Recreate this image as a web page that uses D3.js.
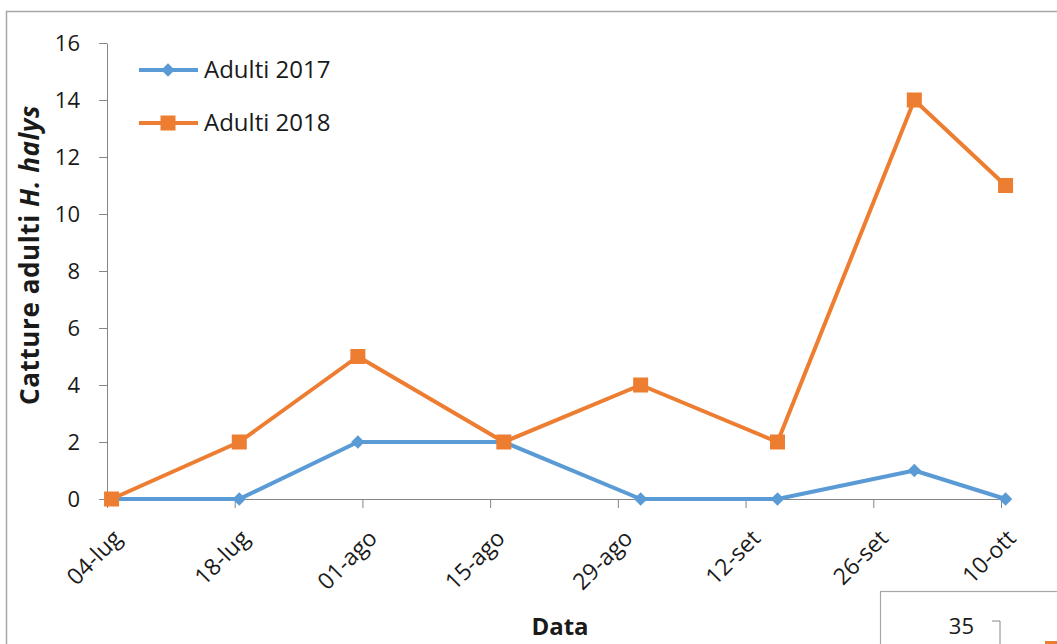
<!DOCTYPE html>
<html>
<head>
<meta charset="utf-8">
<script src="https://cdn.jsdelivr.net/npm/d3@7"></script>
<style>
  html, body { margin: 0; padding: 0; background: #fff; }
  svg { display: block; font-family: "Open Sans", Lato, sans-serif; }
</style>
</head>
<body>
<svg id="chart" width="1057" height="644"></svg>
<script>
// ---- data ----
const sampleDates = ["2018-07-04", "2018-07-18", "2018-07-31", "2018-08-16", "2018-08-31", "2018-09-15", "2018-09-30", "2018-10-10"];
const adulti2017 = [0, 0, 2, 2, 0, 0, 1, 0];
const adulti2018 = [0, 2, 5, 2, 4, 2, 14, 11];
const seriesNames = ["Adulti 2017", "Adulti 2018"];
const tickDates = ["2018-07-04", "2018-07-18", "2018-08-01", "2018-08-15", "2018-08-29", "2018-09-12", "2018-09-26", "2018-10-10"];
const tickLabels = ["04-lug", "18-lug", "01-ago", "15-ago", "29-ago", "12-set", "26-set", "10-ott"];
const yTicks = [0, 2, 4, 6, 8, 10, 12, 14, 16];

const parse = d3.timeParse("%Y-%m-%d");
const svg = d3.select("#chart");
const FONT = "'Open Sans', Lato, sans-serif";

const blue = "#5B9BD5", orange = "#ED7D31", axisCol = "#868686", textCol = "#1a1a1a";

// outer chart frame (extends beyond picture)
svg.append("rect").attr("x", 6.5).attr("y", 11.5).attr("width", 1100).attr("height", 700)
  .attr("fill", "none").attr("stroke", "#a6a6a6").attr("stroke-width", 1.5);

const x = d3.scaleTime().domain([parse(tickDates[0]), parse(tickDates[tickDates.length - 1])]).range([107, 1001]);
const y = d3.scaleLinear().domain([0, 16]).range([499, 43]);
const halfDay = (x(d3.timeDay.offset(parse(tickDates[0]), 1)) - x(parse(tickDates[0]))) / 2;

// y axis
const yAxis = svg.append("g").attr("transform", "translate(107,0)")
  .call(d3.axisLeft(y).tickValues(yTicks).tickSize(8).tickPadding(19).tickSizeOuter(0));
yAxis.select(".domain").attr("stroke", axisCol);
yAxis.selectAll(".tick line").attr("stroke", axisCol);
yAxis.selectAll(".tick text").attr("font-size", 22).attr("fill", textCol).attr("font-family", FONT);

// x axis
const xAxis = svg.append("g").attr("transform", "translate(0,499)")
  .call(d3.axisBottom(x).tickValues(tickDates.map(parse)).tickSize(9).tickSizeOuter(0)
    .tickFormat((d, i) => tickLabels[i]));
xAxis.select(".domain").attr("stroke", axisCol);
xAxis.selectAll(".tick line").attr("stroke", axisCol);
xAxis.selectAll(".tick text")
  .attr("font-size", 23).attr("fill", textCol).attr("font-family", FONT)
  .attr("text-anchor", "end")
  .attr("x", 0).attr("y", 0).attr("dy", "0.35em")
  .attr("transform", "translate(10,35) rotate(-45)");

// series
const data17 = sampleDates.map((d, i) => ({ d: parse(d), v: adulti2017[i] }));
const data18 = sampleDates.map((d, i) => ({ d: parse(d), v: adulti2018[i] }));
const line = d3.line().x(p => x(p.d) + halfDay).y(p => y(p.v));

svg.append("path").datum(data17).attr("d", line).attr("fill", "none")
  .attr("stroke", blue).attr("stroke-width", 4).attr("stroke-linejoin", "round");
svg.append("g").selectAll("path").data(data17).join("path")
  .attr("d", d3.symbol(d3.symbolDiamond2, 115)())
  .attr("transform", p => `translate(${x(p.d) + halfDay},${y(p.v)})`)
  .attr("fill", blue);

svg.append("path").datum(data18).attr("d", line).attr("fill", "none")
  .attr("stroke", orange).attr("stroke-width", 4).attr("stroke-linejoin", "round");
svg.append("g").selectAll("rect").data(data18).join("rect")
  .attr("x", p => x(p.d) + halfDay - 7.5).attr("y", p => y(p.v) - 7.5)
  .attr("width", 15).attr("height", 15).attr("fill", orange);

// axis titles
const yt = svg.append("text")
  .attr("transform", "translate(39,255) rotate(-90)")
  .attr("text-anchor", "middle").attr("font-size", 26).attr("font-weight", "bold")
  .attr("letter-spacing", 0.6)
  .attr("fill", textCol).attr("font-family", FONT);
yt.append("tspan").text("Catture adulti ");
yt.append("tspan").attr("font-style", "italic").text("H. halys");

svg.append("text").attr("x", 560).attr("y", 635).attr("text-anchor", "middle").attr("font-family", FONT)
  .attr("font-size", 24).attr("font-weight", "bold").attr("fill", textCol).text("Data");

// legend
const leg = svg.append("g");
[[70, blue, "diamond"], [123, orange, "square"]].forEach(([ly, col, sym], i) => {
  leg.append("line").attr("x1", 139).attr("x2", 198).attr("y1", ly).attr("y2", ly)
    .attr("stroke", col).attr("stroke-width", 4);
  if (sym === "diamond") {
    leg.append("path").attr("d", d3.symbol(d3.symbolDiamond2, 115)())
      .attr("transform", `translate(168,${ly})`).attr("fill", col);
  } else {
    leg.append("rect").attr("x", 168 - 7.5).attr("y", ly - 7.5).attr("width", 15).attr("height", 15).attr("fill", col);
  }
  leg.append("text").attr("x", 204).attr("y", ly + 8).attr("font-size", 24).attr("font-family", FONT)
    .attr("fill", textCol).text(seriesNames[i]);
});

// fragment of a second chart at bottom-right
const frag = svg.append("g");
frag.append("rect").attr("x", 880.5).attr("y", 591.5).attr("width", 300).attr("height", 100)
  .attr("fill", "#fff").attr("stroke", "#a6a6a6").attr("stroke-width", 1.2);
frag.append("line").attr("x1", 992).attr("x2", 1000).attr("y1", 621).attr("y2", 621).attr("stroke", axisCol);
frag.append("line").attr("x1", 1000).attr("x2", 1000).attr("y1", 621).attr("y2", 650).attr("stroke", axisCol);
frag.append("text").attr("x", 974).attr("y", 634).attr("text-anchor", "end").attr("font-size", 22)
  .attr("font-family", FONT).attr("fill", textCol).text("35");
frag.append("rect").attr("x", 1045).attr("y", 641).attr("width", 15).attr("height", 15).attr("fill", orange);
</script>
</body>
</html>
